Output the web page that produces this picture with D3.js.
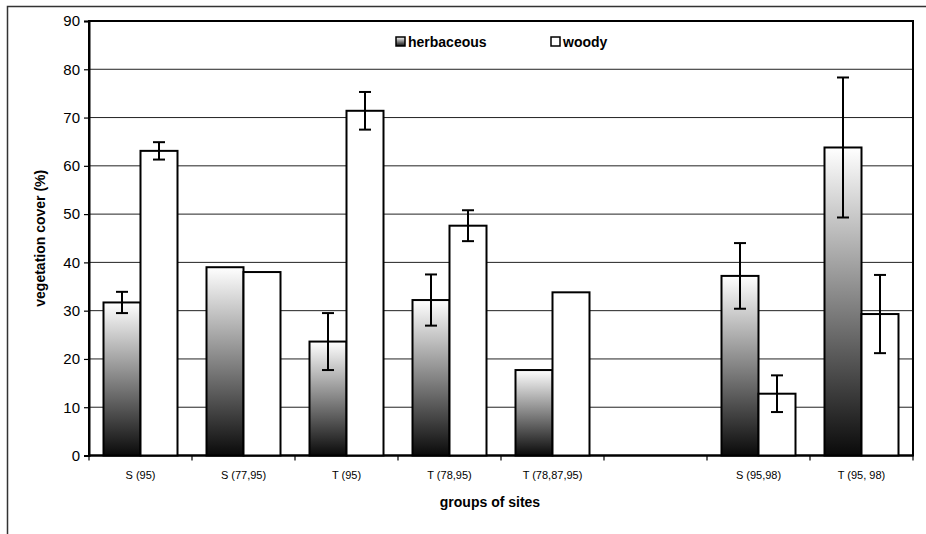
<!DOCTYPE html>
<html>
<head>
<meta charset="utf-8">
<script src="https://cdn.jsdelivr.net/npm/d3@7"></script>
<style>
  body { margin: 0; background: #fff; }
  text { font-family: Arial, "Liberation Sans", sans-serif; fill: #000; }
</style>
</head>
<body>
<svg id="chart" width="926" height="534"></svg>
<script>
// groups of sites (the empty string is the blank slot in the original)
var groups = ["S (95)", "S (77,95)", "T (95)", "T (78,95)", "T (78,87,95)", "", "S (95,98)", "T (95, 98)"];
var herbaceous = [31.7, 39.0, 23.6, 32.2, 17.7, null, 37.2, 63.8];
var herbErr = [2.2, null, 5.9, 5.3, null, null, 6.8, 14.5];
var woody = [63.1, 38.0, 71.4, 47.6, 33.8, null, 12.8, 29.3];
var woodyErr = [1.8, null, 3.9, 3.2, null, null, 3.8, 8.1];
var yTicks = [0, 10, 20, 30, 40, 50, 60, 70, 80, 90];

var svg = d3.select("#chart");
// (window.top is reserved, so plot edges get their own names)
var plotL = 89, plotR = 913, plotT = 21, plotB = 455.5;

var x = d3.scaleBand().domain(d3.range(groups.length)).range([plotL, plotR]).paddingInner(0).paddingOuter(0);
var y = d3.scaleLinear().domain([0, 90]).range([plotB, plotT]);

// bar gradient: white on top, black at the bottom
var defs = svg.append("defs");
var grad = defs.append("linearGradient").attr("id", "herbGrad")
    .attr("x1", 0).attr("y1", 0).attr("x2", 0).attr("y2", 1);
grad.append("stop").attr("offset", "0%").attr("stop-color", "#ffffff");
grad.append("stop").attr("offset", "100%").attr("stop-color", "#0a0a0a");

// outer frame
svg.append("path").attr("d", "M7.5,534 V6.5 H926")
    .attr("fill", "none").attr("stroke", "#333").attr("stroke-width", 1.5);

// gridlines
svg.append("g").selectAll("line").data(yTicks.slice(1, -1)).enter().append("line")
    .attr("x1", plotL).attr("x2", plotR)
    .attr("y1", function(d) { return y(d); }).attr("y2", function(d) { return y(d); })
    .attr("stroke", "#222").attr("stroke-width", 1);

// plot area border
svg.append("rect").attr("x", plotL).attr("y", plotT)
    .attr("width", plotR - plotL).attr("height", plotB - plotT)
    .attr("fill", "none").attr("stroke", "#000").attr("stroke-width", 2);

// y axis
var yAxis = d3.axisLeft(y).tickValues(yTicks).tickSize(5).tickPadding(4);
var gy = svg.append("g").attr("transform", "translate(" + plotL + ",0)").call(yAxis);
gy.select(".domain").attr("stroke-width", 2);
gy.selectAll(".tick line").attr("stroke-width", 1.2);
gy.selectAll("text").style("font-size", "15px");

// x axis: ticks at group boundaries, labels centered
var gx = svg.append("g").attr("transform", "translate(0," + plotB + ")");
gx.append("line").attr("x1", plotL).attr("x2", plotR).attr("stroke", "#000").attr("stroke-width", 2);
gx.selectAll(".tk").data(d3.range(groups.length + 1)).enter().append("line")
    .attr("x1", function(i) { return plotL + i * x.bandwidth(); })
    .attr("x2", function(i) { return plotL + i * x.bandwidth(); })
    .attr("y1", 0).attr("y2", 5).attr("stroke", "#000").attr("stroke-width", 1.2);
gx.selectAll(".lbl").data(groups).enter().append("text")
    .attr("x", function(d, i) { return x(i) + x.bandwidth() / 2; })
    .attr("y", 23).attr("text-anchor", "middle").style("font-size", "11px")
    .text(function(d) { return d; });

// bars
var barW = 37;
var off = (x.bandwidth() - 2 * barW) / 2;
function drawSeries(vals, errs, dx, fill) {
  var g = svg.append("g");
  vals.forEach(function(v, i) {
    if (v == null) return;
    var bx = x(i) + off + dx;
    g.append("rect").attr("x", bx).attr("y", y(v))
        .attr("width", barW).attr("height", y(0) - y(v))
        .attr("fill", fill).attr("stroke", "#000").attr("stroke-width", 2);
    var e = errs[i];
    if (e == null) return;
    var cx = bx + barW / 2;
    g.append("line").attr("x1", cx).attr("x2", cx).attr("y1", y(v + e)).attr("y2", y(v - e))
        .attr("stroke", "#000").attr("stroke-width", 2);
    [v + e, v - e].forEach(function(t) {
      g.append("line").attr("x1", cx - 6).attr("x2", cx + 6).attr("y1", y(t)).attr("y2", y(t))
          .attr("stroke", "#000").attr("stroke-width", 2);
    });
  });
}
drawSeries(herbaceous, herbErr, 0, "url(#herbGrad)");
drawSeries(woody, woodyErr, barW, "#fff");

// legend
var legend = [{name: "herbaceous", fill: "url(#herbGrad)", x: 396}, {name: "woody", fill: "#fff", x: 551}];
var lg = svg.append("g").selectAll("g").data(legend).enter().append("g")
    .attr("transform", function(d) { return "translate(" + d.x + ",37)"; });
lg.append("rect").attr("width", 9).attr("height", 9)
    .attr("fill", function(d) { return d.fill; }).attr("stroke", "#000").attr("stroke-width", 1.5);
lg.append("text").attr("x", 12).attr("y", 9.5).style("font-size", "14px").style("font-weight", "bold")
    .text(function(d) { return d.name; });

// axis titles
svg.append("text").attr("transform", "translate(45," + ((plotT + plotB) / 2) + ") rotate(-90)")
    .attr("text-anchor", "middle").style("font-size", "14px").style("font-weight", "bold")
    .text("vegetation cover (%)");
svg.append("text").attr("x", 490).attr("y", 507).attr("text-anchor", "middle")
    .style("font-size", "14px").style("font-weight", "bold").text("groups of sites");
</script>
</body>
</html>
